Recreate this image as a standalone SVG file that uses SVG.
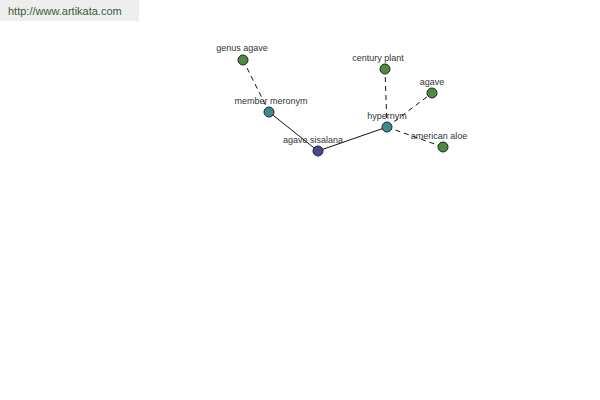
<svg xmlns="http://www.w3.org/2000/svg" width="600" height="400" viewBox="0 0 600 400">
<style>
.lbl{font-family:"Liberation Sans",Arial,sans-serif;font-size:9px;fill:#333;text-anchor:middle}
.n{stroke:#222;stroke-width:1}
.g{fill:#4c8c3c}
.t{fill:#3c8c8c}
.b{fill:#46469a}
.e{stroke:#111;stroke-width:1;fill:none}
.d{stroke-dasharray:5,4}
</style>
<rect x="0" y="0" width="600" height="400" fill="#fff"/>
<rect x="0" y="0" width="139" height="21" fill="#eeeeee"/>
<text x="8" y="15" font-family="Liberation Sans,Arial,sans-serif" font-size="11" fill="#3c5a3c">http://www.artikata.com</text>
<g id="connectors">
<line class="e d" x1="243" y1="60" x2="269" y2="112"/>
<line class="e" x1="269" y1="112" x2="318" y2="151"/>
<line class="e" x1="318" y1="151" x2="387" y2="127"/>
<line class="e d" x1="387" y1="127" x2="385" y2="69"/>
<line class="e d" x1="387" y1="127" x2="432" y2="93"/>
<line class="e d" x1="387" y1="127" x2="443" y2="147"/>
</g>
<g id="genus-agave"><circle class="n g" cx="243" cy="60" r="5"/><text class="lbl" x="242" y="51">genus agave</text></g>
<g id="member-meronym"><circle class="n t" cx="269" cy="112" r="5"/><text class="lbl" x="271" y="104">member meronym</text></g>
<g id="agave-sisalana"><circle class="n b" cx="318" cy="151" r="5"/><text class="lbl" x="313" y="143">agave sisalana</text></g>
<g id="hypernym"><circle class="n t" cx="387" cy="127" r="5"/><text class="lbl" x="387" y="119">hypernym</text></g>
<g id="century-plant"><circle class="n g" cx="385" cy="69" r="5"/><text class="lbl" x="378" y="61">century plant</text></g>
<g id="agave"><circle class="n g" cx="432" cy="93" r="5"/><text class="lbl" x="432" y="85">agave</text></g>
<g id="american-aloe"><circle class="n g" cx="443" cy="147" r="5"/><text class="lbl" x="439" y="139">american aloe</text></g>
</svg>
